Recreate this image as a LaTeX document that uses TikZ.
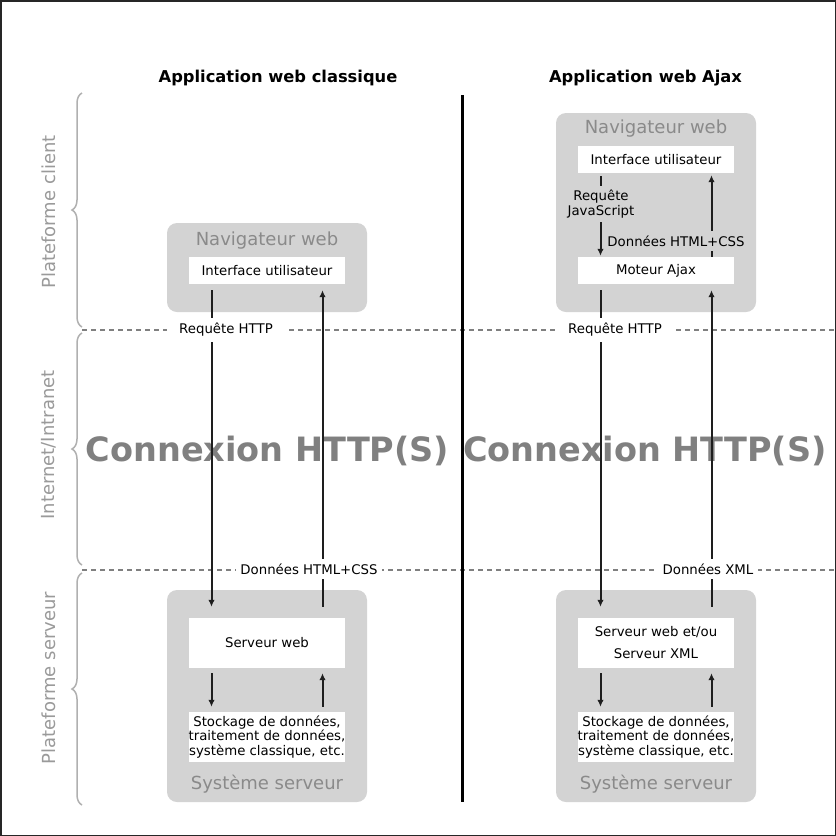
\documentclass[tikz,border=0pt]{standalone}
\usepackage{fontspec}
\setmainfont{DejaVu Sans}
\usetikzlibrary{arrows.meta,decorations.pathreplacing,calc}
\definecolor{boxgray}{HTML}{D3D3D3}
\definecolor{txtgray}{HTML}{8A8A8A}
\definecolor{sidegray}{HTML}{9A9A9A}
\definecolor{bracegray}{HTML}{B0B0B0}
\definecolor{dashgray}{HTML}{808080}
\definecolor{bigtxt}{HTML}{808080}
\definecolor{linecol}{HTML}{1E1E1E}
\begin{document}
\begin{tikzpicture}[x=1pt,y=-1pt,
  graybox/.style={fill=boxgray, rounded corners=10pt, inner sep=0pt},
  whitebox/.style={fill=white, inner sep=0pt, minimum width=156pt, font=\fontsize{13.3}{16}\selectfont, align=center},
  boxtitle/.style={text=txtgray, font=\fontsize{18}{20}\selectfont, inner sep=0pt},
  coltitle/.style={font=\bfseries\fontsize{16.3}{18}\selectfont, inner sep=0pt},
  sidelabel/.style={text=sidegray, font=\fontsize{18}{20}\selectfont, rotate=90, inner sep=0pt},
  bigtext/.style={text=bigtxt, font=\bfseries\fontsize{33.5}{36}\selectfont, inner sep=0pt},
  arr/.style={draw=linecol, line width=2pt, -{Latex[length=7pt,width=6.5pt]}},
  seplabel/.style={fill=white, font=\fontsize{13.3}{16}\selectfont, inner ysep=5pt, inner xsep=6pt},
  inlabel/.style={fill=boxgray, font=\fontsize{13.3}{15}\selectfont, inner xsep=3pt, inner ysep=4pt, align=center},
  zonesep/.style={draw=dashgray, line width=1.5pt, dash pattern=on 5pt off 4pt},
  bracket/.style={draw=bracegray, line width=1.5pt, decorate, decoration={brace, amplitude=10pt}},
]
\useasboundingbox (0,0) rectangle (836,836);
\fill[white] (0,0) rectangle (836,836);

% gray containers
\node[graybox, minimum width=200pt, minimum height=89pt] (nav1) at (267,267.5) {};
\node[graybox, minimum width=200pt, minimum height=212pt] (srv1) at (267,696) {};
\node[graybox, minimum width=200pt, minimum height=199pt] (nav2) at (656,212.5) {};
\node[graybox, minimum width=200pt, minimum height=212pt] (srv2) at (656,696) {};

% container titles
\node[boxtitle] (nav1t) at (267,240.5) {Navigateur web};
\node[boxtitle] (srv1t) at (267,784) {Système serveur};
\node[boxtitle] (nav2t) at (656,128.5) {Navigateur web};
\node[boxtitle] (srv2t) at (656,784) {Système serveur};

% white boxes
\node[whitebox, minimum height=27pt] (iu1) at (267,270.5) {Interface utilisateur};
\node[whitebox, minimum height=50pt] (sw1) at (267,643) {Serveur web};
\node[whitebox, minimum height=50pt, font=\fontsize{13.3}{14.5}\selectfont] (st1) at (267,737) {Stockage de données,\\traitement de données,\\système classique, etc.};
\node[whitebox, minimum height=27pt] (iu2) at (656,159.5) {Interface utilisateur};
\node[whitebox, minimum height=27pt] (ma2) at (656,270.5) {Moteur Ajax};
\node[whitebox, minimum height=50pt] (sw2) at (656,643) {Serveur web et/ou\\[6pt]Serveur XML};
\node[whitebox, minimum height=50pt, font=\fontsize{13.3}{14.5}\selectfont] (st2) at (656,737) {Stockage de données,\\traitement de données,\\système classique, etc.};

% column titles
\node[coltitle] (t1) at (278,78) {Application web classique};
\node[coltitle] (t2) at (645.5,78) {Application web Ajax};

% big texts
\node[bigtext] (c1) at (267.5,451) {Connexion HTTP(S)};
\node[bigtext] (c2) at (645,451) {Connexion HTTP(S)};

% zones
\draw[zonesep] (82,330) -- (836,330);
\draw[zonesep] (82,570) -- (836,570);
\draw[bracket] (82,327) -- (82,93);
\draw[bracket] (82,565) -- (82,333);
\draw[bracket] (82,805) -- (82,573);
\node[sidelabel] (s1) at (49,212) {Plateforme client};
\node[sidelabel] (s2) at (49,445) {Internet/Intranet};
\node[sidelabel] (s3) at (49,678) {Plateforme serveur};

% divider
\draw[line width=3pt, black] (462,95) -- (462,802);

% arrows left
\draw[arr] ([xshift=-55.5pt,yshift=-6pt]iu1.south) -- ([xshift=-55.5pt,yshift=11pt]sw1.north);
\draw[arr] ([xshift=55.5pt,yshift=11pt]sw1.north) -- ([xshift=55.5pt,yshift=-6pt]iu1.south);
\draw[arr] ([xshift=-55.5pt,yshift=-5pt]sw1.south) -- ([xshift=-55.5pt,yshift=5pt]st1.north);
\draw[arr] ([xshift=55.5pt,yshift=5pt]st1.north) -- ([xshift=55.5pt,yshift=-5pt]sw1.south);

% arrows right
\draw[arr] ([xshift=-55.5pt,yshift=-3pt]iu2.south) -- ([xshift=-55.5pt,yshift=1pt]ma2.north);
\draw[arr] ([xshift=55.5pt]ma2.north) -- ([xshift=55.5pt,yshift=-2pt]iu2.south);
\draw[arr] ([xshift=-55.5pt,yshift=-6pt]ma2.south) -- ([xshift=-55.5pt,yshift=11pt]sw2.north);
\draw[arr] ([xshift=55.5pt,yshift=11pt]sw2.north) -- ([xshift=55.5pt,yshift=-6pt]ma2.south);
\draw[arr] ([xshift=-55.5pt,yshift=-5pt]sw2.south) -- ([xshift=-55.5pt,yshift=5pt]st2.north);
\draw[arr] ([xshift=55.5pt,yshift=5pt]st2.north) -- ([xshift=55.5pt,yshift=-5pt]sw2.south);

% labels
\node[seplabel, inner xsep=12pt] (rq1) at (226,330) {Requête HTTP};
\node[seplabel, inner xsep=4pt] (dh1) at (309,569) {Données HTML+CSS};
\node[seplabel, inner xsep=11pt] (rq2) at (615,330) {Requête HTTP};
\node[seplabel, inner xsep=5pt] (dx2) at (708,569) {Données XML};
\node[inlabel] (rj2) at (601,204) {Requête\\JavaScript};
\node[inlabel, inner ysep=5pt] (dh2) at (676,241) {Données HTML+CSS};

% frame
\draw[line width=1.5pt, draw=black!85] (0.75,0.75) rectangle (835.25,835.25);
\end{tikzpicture}
\end{document}
